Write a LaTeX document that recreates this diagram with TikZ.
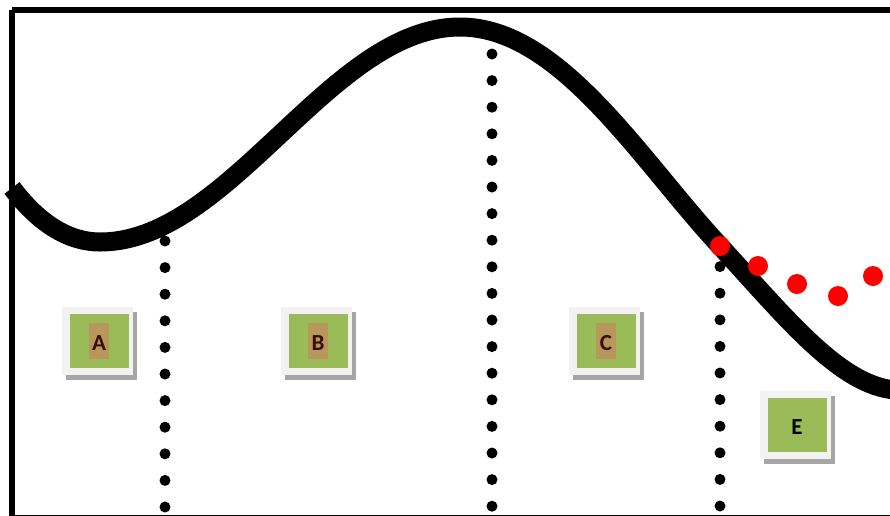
\documentclass[tikz,border=0pt]{standalone}
\usepackage{fontspec}
\setmainfont{Carlito}
\usetikzlibrary{shadows}
\definecolor{boxgreen}{HTML}{9BBB59}
\definecolor{boxtan}{HTML}{B8985A}
\definecolor{boxlight}{HTML}{F2F2F2}
\definecolor{boxshadow}{HTML}{A6A6A6}
\definecolor{lettercol}{HTML}{3A0C0C}
\tikzset{
  outerbox/.style={fill=boxlight, minimum width=71pt, minimum height=68pt, inner sep=0pt,
    drop shadow={shadow xshift=4pt, shadow yshift=-5pt, fill=boxshadow, opacity=1}},
  greenbox/.style={fill=boxgreen, minimum width=59pt, minimum height=54pt, inner sep=0pt},
  tanbox/.style={fill=boxtan, minimum width=20pt, minimum height=36pt, inner sep=0pt},
  letter/.style={font=\fontsize{23}{25}\selectfont\bfseries, text=lettercol, inner sep=0pt},
  dotline/.style={line width=11pt, line cap=round, dash pattern=on 0pt off 26.6pt},
  reddot/.style={fill=red},
  wave/.style={line width=19pt}
}
\begin{document}
\begin{tikzpicture}[x=1pt, y=-1pt]
\useasboundingbox (0,0) rectangle (890,515);
\fill[white] (0,0) rectangle (890,515);
\begin{scope}
\clip (0,0) rectangle (890,515);
% dotted vertical lines
\draw[dotline] (165,241) -- (165,520);
\draw[dotline] (492,54) -- (492,520);
\draw[dotline] (720,240) -- (720,520);
% wave
\draw[wave] (12,188) .. controls (40,225) and (70,242) .. (100,242)
  .. controls (230,242) and (330,27) .. (460,27)
  .. controls (560,27) and (640,160) .. (720,246)
  .. controls (788,320) and (840,385) .. (895,390);
% red dots
\foreach \p in {(720,246),(758,266),(797,284),(838,296),(873,276)}
  \fill[reddot] \p circle (10pt);
% frame
\draw[line width=6pt] (12,10) -- (900,10);
\draw[line width=6pt] (12,10) -- (12,520);
\draw[line width=3pt] (12,516) -- (900,516);
\end{scope}
% boxes
\node[outerbox] (Ao) at (97,341) {};
\node[greenbox] (Ag) at (99.5,341) {};
\node[tanbox] (At) at (99,341) {};
\node[letter] (A) at (99,343) {A};
\node[outerbox] (Bo) at (316,341) {};
\node[greenbox] (Bg) at (318.5,341) {};
\node[tanbox] (Bt) at (318,341) {};
\node[letter] (B) at (318,343) {B};
\node[outerbox] (Co) at (604,341) {};
\node[greenbox] (Cg) at (606.5,341) {};
\node[tanbox] (Ct) at (606,341) {};
\node[letter] (C) at (606,343) {C};
\node[outerbox] (Eo) at (795,425) {};
\node[greenbox] (Eg) at (797.5,425) {};
\node[letter, text=black] (E) at (797,427) {E};
\end{tikzpicture}
\end{document}
